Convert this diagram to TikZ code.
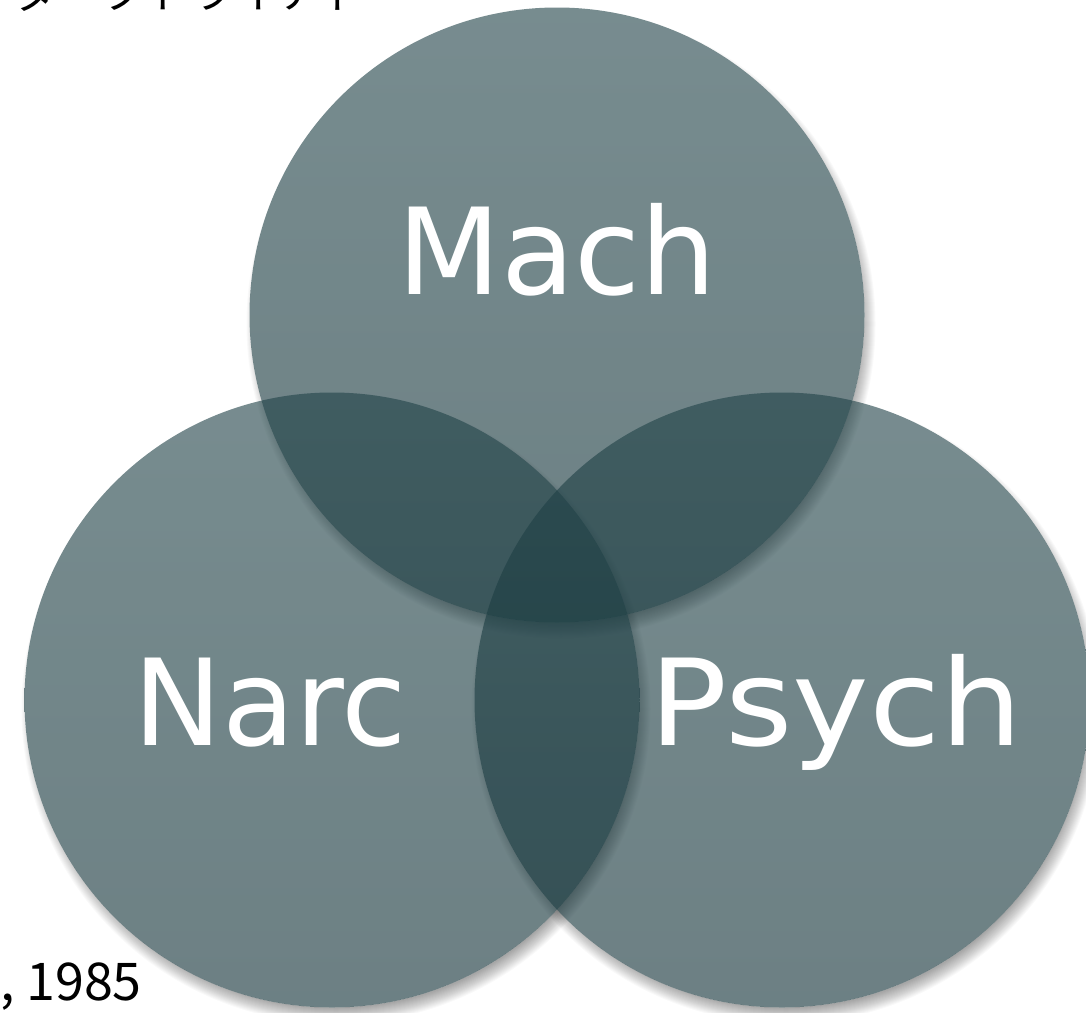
\documentclass[tikz,border=0pt]{standalone}
\usepackage{fontspec}
\setmainfont{DejaVu Sans}
\newfontfamily\jpfont{Noto Sans CJK JP}
\definecolor{venntop}{RGB}{34,68,73}
\definecolor{vennbottom}{RGB}{16,48,54}
\tikzset{
  setdisk/.style={top color=venntop, bottom color=vennbottom, fill opacity=0.61, draw=none},
  setlabel/.style={text=white, anchor=base, inner sep=0pt, font=\fontsize{120}{120}\selectfont},
  jptext/.style={text=black, inner sep=0pt}
}
\begin{document}
\begin{tikzpicture}[x=1pt,y=-1pt]
\useasboundingbox (0,0) rectangle (1086,1012);
\fill[white] (0,0) rectangle (1086,1012);

\def\rad{307.5}
\coordinate (cm) at (557,315);
\coordinate (cn) at (332,700);
\coordinate (cp) at (782,700);

% soft drop shadows, each kept outside its own disk
\foreach \c in {cm,cn,cp}{
  \begin{scope}[even odd rule]
    \clip (-20,-20) rectangle (1110,1040) (\c) circle (\rad pt);
    \foreach \k in {0,...,15}
      \fill[black, opacity=0.024] ([shift={(4,9)}]\c) circle ({\rad pt + \k pt - 8pt});
  \end{scope}
}

% the three sets
\shade[setdisk] (cm) circle (\rad pt);
\shade[setdisk] (cn) circle (\rad pt);
\shade[setdisk] (cp) circle (\rad pt);

% labels
\node[setlabel] (mach) at (557,294) {Mach};
\node[setlabel, xscale=0.99] (narc) at (270,745) {Narc};
\node[setlabel, xscale=1.08] (psych) at (836,745) {Psych};

% heading and citation
\node[jptext, anchor=base west, font=\jpfont\fontsize{44}{44}\selectfont] (title) at (14,8) {ダークトライアド};
\node[jptext, anchor=base west, font=\jpfont\fontsize{52}{52}\selectfont] (cite) at (0,1000) {, 1985};
\end{tikzpicture}
\end{document}
